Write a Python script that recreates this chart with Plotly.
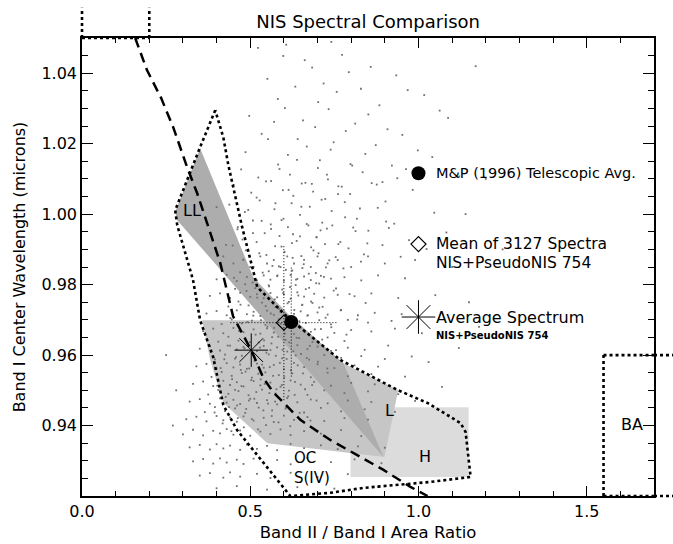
import plotly.graph_objects as go

# ---- axes ----
X_RANGE = [0.0, 1.70]
Y_RANGE = [0.92, 1.05]
x_ticks = [0.0, 0.5, 1.0, 1.5]
x_tick_text = ["0.0", "0.5", "1.0", "1.5"]
y_ticks = [0.94, 0.96, 0.98, 1.00, 1.02, 1.04]
y_tick_text = ["0.94", "0.96", "0.98", "1.00", "1.02", "1.04"]
x_minor = [0.1, 0.2, 0.3, 0.4, 0.6, 0.7, 0.8, 0.9, 1.1, 1.2, 1.3, 1.4, 1.6]
y_minor = [0.925, 0.93, 0.935, 0.945, 0.95, 0.955, 0.965, 0.97, 0.975,
           0.985, 0.99, 0.995, 1.005, 1.01, 1.015, 1.025, 1.03, 1.035, 1.045]

# ---- ordinary chondrite fields (shaded) ----
h_x = [0.798, 1.149, 1.149, 0.798]
h_y = [0.9452, 0.9452, 0.9254, 0.9254]
l_x = [0.357, 0.619, 0.777, 0.940, 0.899, 0.551, 0.420, 0.381]
l_y = [0.9699, 0.9699, 0.9577, 0.9501, 0.9311, 0.9350, 0.9464, 0.9586]
ll_x = [0.351, 0.277, 0.283, 0.896, 0.777, 0.610, 0.509]
ll_y = [1.0187, 1.0006, 0.9983, 0.9311, 0.9577, 0.9719, 0.9821]

# ---- S(IV) / OC boundary (dotted) ----
oc_x = [0.396, 0.351, 0.277, 0.283, 0.330, 0.351, 0.390, 0.420, 0.461, 0.619,
        0.738, 0.836, 1.036, 1.155, 1.140, 1.125, 1.027, 0.9375, 0.768, 0.610,
        0.521, 0.476, 0.435, 0.420, 0.396]
oc_y = [1.0295, 1.0190, 1.0011, 0.9969, 0.9813, 0.9699, 0.9594, 0.9458, 0.9387, 0.9200,
        0.9209, 0.9223, 0.9240, 0.9254, 0.9382, 0.9407, 0.9464, 0.9501, 0.9586, 0.9708,
        0.9793, 0.9963, 1.0139, 1.0218, 1.0295]

# ---- olivine-orthopyroxene mixing line (dashed) ----
mix_x = [0.158, 0.193, 0.235, 0.271, 0.3125, 0.342, 0.372, 0.411, 0.449, 0.503, 0.539,
         0.568, 0.649, 0.738, 0.818, 0.896, 0.976, 1.027]
mix_y = [1.0500, 1.0409, 1.0330, 1.0247, 1.0133, 1.0060, 0.9974, 0.9861, 0.9710, 0.9614, 0.9535,
         0.9495, 0.9416, 0.9359, 0.9316, 0.9274, 0.9226, 0.9200]

# ---- NIS spectra band parameters ----
cloud_upper = [
    (0.523, 1.0472), (0.607, 1.0481), (0.662, 1.0437), (0.741, 1.0489), (0.773, 1.0452), (0.858, 1.0418), (0.598, 1.0449),
    (0.551, 1.0384), (0.684, 1.0416), (0.718, 1.0371), (0.793, 1.0403), (0.829, 1.0356), (0.934, 1.0394), (1.017, 1.0338),
    (0.582, 1.0327), (0.634, 1.0362), (0.702, 1.0318), (0.757, 1.0347), (0.884, 1.0309), (0.968, 1.0352), (1.063, 1.0294),
    (0.497, 1.0279), (0.603, 1.0301), (0.657, 1.0266), (0.733, 1.0298), (0.812, 1.0257), (0.851, 1.0283), (0.908, 1.0241), (1.088, 1.0273),
    (0.534, 1.0228), (0.571, 1.0262), (0.641, 1.0213), (0.693, 1.0247), (0.748, 1.0204), (0.784, 1.0236), (0.873, 1.0196), (0.952, 1.0225), (0.998, 1.0181),
    (0.486, 1.0176), (0.553, 1.0213), (0.612, 1.0168), (0.668, 1.0192), (0.707, 1.0153), (0.739, 1.0183), (0.798, 1.0142), (0.842, 1.0171), (0.921, 1.0138), (1.041, 1.0162),
    (0.473, 1.0127), (0.524, 1.0104), (0.583, 1.0141), (0.618, 1.0112), (0.653, 1.0087), (0.701, 1.0131), (0.731, 1.0099), (0.772, 1.0078), (0.834, 1.0119), (0.893, 1.0091), (0.963, 1.0128), (1.121, 1.0107),
    (0.451, 1.0083), (0.503, 1.0061), (0.562, 1.0094), (0.597, 1.0068), (0.628, 1.0052), (0.664, 1.0089), (0.687, 1.0064), (0.723, 1.0043), (0.762, 1.0079), (0.797, 1.0057), (0.861, 1.0088), (0.902, 1.0036), (0.983, 1.0069),
    (0.438, 1.0027), (0.484, 1.0006), (0.528, 1.0039), (0.572, 1.0014), (0.593, 0.9983), (0.623, 1.0031), (0.648, 0.9998), (0.677, 1.0021), (0.714, 0.9976), (0.742, 1.0009), (0.781, 1.0034), (0.817, 0.9987), (0.879, 1.0018), (0.928, 0.9973), (1.047, 1.0004),
    (0.462, 0.9957), (0.508, 0.9982), (0.543, 0.9946), (0.561, 0.9971), (0.587, 0.9938), (0.612, 0.9963), (0.638, 0.9924), (0.673, 0.9968), (0.697, 0.9935), (0.728, 0.9959), (0.768, 0.9921), (0.813, 0.9952), (0.848, 0.9917), (0.912, 0.9961), (0.972, 0.9926), (1.083, 0.9948),
    (0.428, 0.9913), (0.487, 0.9897), (0.519, 0.9921), (0.548, 0.9884), (0.574, 0.9909), (0.602, 0.9893), (0.624, 0.9918), (0.652, 0.9881), (0.681, 0.9906), (0.703, 0.9889), (0.722, 0.9915), (0.754, 0.9878), (0.792, 0.9903), (0.838, 0.9886), (0.893, 0.9912), (0.947, 0.9879), (1.024, 0.9901),
]
cloud_core = [
    (0.42, 0.988), (0.45, 0.986), (0.48, 0.987), (0.51, 0.985), (0.53, 0.988), (0.55, 0.986), (0.57, 0.987), (0.59, 0.985), (0.61, 0.988), (0.63, 0.986), (0.66, 0.987), (0.68, 0.985), (0.70, 0.988), (0.73, 0.986), (0.76, 0.987), (0.80, 0.985), (0.85, 0.988), (0.90, 0.986), (0.99, 0.987),
    (0.47, 0.9835), (0.50, 0.9850), (0.555, 0.9838), (0.585, 0.9852), (0.625, 0.9840), (0.655, 0.9847), (0.695, 0.9833), (0.725, 0.9849),
    (0.40, 0.9815), (0.43, 0.9828), (0.46, 0.9810), (0.49, 0.9822), (0.52, 0.9812), (0.54, 0.9826), (0.56, 0.9814), (0.58, 0.9824), (0.60, 0.9811), (0.62, 0.9827), (0.64, 0.9816), (0.66, 0.9823), (0.68, 0.9813), (0.71, 0.9825), (0.74, 0.9817), (0.78, 0.9821), (0.83, 0.9812), (0.88, 0.9826), (0.96, 0.9818),
    (0.455, 0.9788), (0.485, 0.9801), (0.515, 0.9790), (0.555, 0.9798), (0.595, 0.9786), (0.635, 0.9799), (0.675, 0.9791), (0.705, 0.9803), (0.755, 0.9789),
    (0.38, 0.9768), (0.41, 0.9775), (0.44, 0.9762), (0.47, 0.9777), (0.50, 0.9765), (0.52, 0.9773), (0.54, 0.9761), (0.56, 0.9776), (0.58, 0.9764), (0.60, 0.9772), (0.62, 0.9760), (0.64, 0.9778), (0.66, 0.9766), (0.69, 0.9774), (0.72, 0.9763), (0.76, 0.9771), (0.81, 0.9767), (0.86, 0.9775), (0.94, 0.9762), (1.05, 0.9770),
    (0.435, 0.9738), (0.465, 0.9752), (0.495, 0.9741), (0.535, 0.9749), (0.575, 0.9736), (0.615, 0.9751), (0.655, 0.9743), (0.685, 0.9748), (0.715, 0.9737),
    (0.37, 0.9718), (0.40, 0.9725), (0.43, 0.9713), (0.46, 0.9727), (0.49, 0.9716), (0.51, 0.9723), (0.53, 0.9711), (0.55, 0.9726), (0.57, 0.9714), (0.59, 0.9722), (0.63, 0.9717), (0.65, 0.9724), (0.67, 0.9712), (0.70, 0.9721), (0.73, 0.9715), (0.77, 0.9728), (0.82, 0.9713), (0.87, 0.9720), (0.95, 0.9716),
    (0.415, 0.9688), (0.445, 0.9701), (0.475, 0.9690), (0.505, 0.9698), (0.545, 0.9686), (0.585, 0.9702), (0.665, 0.9691), (0.705, 0.9699), (0.74, 0.9687), (0.79, 0.9700), (0.85, 0.9692), (0.92, 0.9697),
    (0.36, 0.9668), (0.39, 0.9675), (0.42, 0.9662), (0.45, 0.9677), (0.48, 0.9665), (0.51, 0.9673), (0.53, 0.9661), (0.55, 0.9676), (0.57, 0.9664), (0.60, 0.9672), (0.63, 0.9660), (0.65, 0.9678), (0.68, 0.9666), (0.71, 0.9674), (0.75, 0.9663), (0.80, 0.9671), (0.86, 0.9667), (0.93, 0.9675), (1.01, 0.9662),
    (0.405, 0.9638), (0.435, 0.9652), (0.465, 0.9641), (0.485, 0.9649), (0.525, 0.9636), (0.565, 0.9651), (0.605, 0.9643), (0.645, 0.9648), (0.685, 0.9637), (0.73, 0.9650), (0.78, 0.9640),
    (0.35, 0.9618), (0.38, 0.9625), (0.41, 0.9613), (0.44, 0.9627), (0.46, 0.9616), (0.48, 0.9623), (0.52, 0.9611), (0.54, 0.9626), (0.56, 0.9614), (0.58, 0.9622), (0.61, 0.9610), (0.64, 0.9628), (0.67, 0.9617), (0.70, 0.9624), (0.74, 0.9612), (0.79, 0.9621), (0.84, 0.9615), (0.91, 0.9627),
    (0.395, 0.9588), (0.425, 0.9601), (0.455, 0.9590), (0.475, 0.9598), (0.515, 0.9586), (0.555, 0.9602), (0.595, 0.9591), (0.635, 0.9599), (0.675, 0.9587), (0.72, 0.9600), (0.77, 0.9592), (0.83, 0.9597), (0.90, 0.9589), (0.98, 0.9596),
    (0.34, 0.9568), (0.37, 0.9575), (0.40, 0.9562), (0.43, 0.9577), (0.45, 0.9565), (0.47, 0.9573), (0.49, 0.9561), (0.52, 0.9576), (0.54, 0.9564), (0.57, 0.9572), (0.60, 0.9560), (0.63, 0.9578), (0.66, 0.9566), (0.70, 0.9574), (0.75, 0.9563), (0.81, 0.9571), (0.88, 0.9567),
    (0.385, 0.9538), (0.415, 0.9552), (0.445, 0.9541), (0.475, 0.9549), (0.505, 0.9536), (0.545, 0.9551), (0.585, 0.9543), (0.625, 0.9548), (0.68, 0.9537), (0.73, 0.9550), (0.79, 0.9540), (0.86, 0.9546), (0.96, 0.9539),
    (0.33, 0.9518), (0.36, 0.9525), (0.39, 0.9512), (0.42, 0.9527), (0.44, 0.9515), (0.46, 0.9523), (0.48, 0.9511), (0.51, 0.9526), (0.53, 0.9514), (0.56, 0.9522), (0.59, 0.9510), (0.62, 0.9528), (0.65, 0.9516), (0.69, 0.9524), (0.74, 0.9513), (0.80, 0.9521), (0.87, 0.9517),
    (0.375, 0.9488), (0.405, 0.9501), (0.435, 0.9490), (0.465, 0.9498), (0.495, 0.9486), (0.535, 0.9502), (0.575, 0.9491), (0.615, 0.9499), (0.67, 0.9487), (0.72, 0.9500), (0.78, 0.9492), (0.85, 0.9497), (0.94, 0.9489),
    (0.32, 0.9468), (0.35, 0.9475), (0.38, 0.9462), (0.41, 0.9477), (0.43, 0.9465), (0.45, 0.9473), (0.47, 0.9461), (0.50, 0.9476), (0.52, 0.9464), (0.55, 0.9472), (0.58, 0.9460), (0.61, 0.9478), (0.64, 0.9466), (0.68, 0.9474), (0.73, 0.9463), (0.79, 0.9471), (0.86, 0.9467),
    (0.365, 0.9438), (0.395, 0.9452), (0.425, 0.9441), (0.455, 0.9449), (0.485, 0.9436), (0.525, 0.9451), (0.565, 0.9443), (0.605, 0.9448), (0.66, 0.9437), (0.71, 0.9450), (0.77, 0.9440), (0.84, 0.9446), (0.93, 0.9439),
]
cloud_dense = [
    (0.412, 0.9563), (0.427, 0.9481), (0.433, 0.9627), (0.441, 0.9705), (0.446, 0.9532), (0.452, 0.9819), (0.458, 0.9594), (0.461, 0.9457), (0.467, 0.9668), (0.471, 0.9743),
    (0.474, 0.9512), (0.479, 0.9871), (0.483, 0.9619), (0.486, 0.9553), (0.489, 0.9782), (0.492, 0.9694), (0.496, 0.9471), (0.499, 0.9637), (0.503, 0.9529), (0.507, 0.9806),
    (0.509, 0.9712), (0.513, 0.9584), (0.516, 0.9658), (0.518, 0.9495), (0.521, 0.9763), (0.524, 0.9547), (0.527, 0.9889), (0.529, 0.9621), (0.532, 0.9699), (0.535, 0.9573),
    (0.537, 0.9834), (0.541, 0.9642), (0.543, 0.9518), (0.546, 0.9739), (0.548, 0.9607), (0.551, 0.9681), (0.553, 0.9462), (0.556, 0.9795), (0.558, 0.9566), (0.561, 0.9718),
    (0.563, 0.9633), (0.566, 0.9853), (0.568, 0.9541), (0.571, 0.9677), (0.573, 0.9758), (0.576, 0.9598), (0.578, 0.9503), (0.581, 0.9826), (0.583, 0.9652), (0.586, 0.9731),
    (0.588, 0.9578), (0.591, 0.9689), (0.593, 0.9908), (0.596, 0.9615), (0.598, 0.9776), (0.601, 0.9537), (0.603, 0.9661), (0.606, 0.9842), (0.608, 0.9589), (0.611, 0.9747),
    (0.613, 0.9483), (0.616, 0.9636), (0.618, 0.9793), (0.621, 0.9557), (0.623, 0.9684), (0.626, 0.9876), (0.628, 0.9611), (0.631, 0.9728), (0.633, 0.9524), (0.636, 0.9814),
    (0.638, 0.9649), (0.641, 0.9571), (0.643, 0.9769), (0.646, 0.9696), (0.648, 0.9937), (0.651, 0.9603), (0.654, 0.9742), (0.657, 0.9548), (0.659, 0.9858), (0.662, 0.9665),
    (0.665, 0.9787), (0.668, 0.9592), (0.671, 0.9713), (0.674, 0.9831), (0.677, 0.9626), (0.681, 0.9752), (0.684, 0.9515), (0.688, 0.9897), (0.692, 0.9673), (0.696, 0.9804),
    (0.701, 0.9581), (0.705, 0.9735), (0.709, 0.9954), (0.714, 0.9644), (0.719, 0.9822), (0.724, 0.9706), (0.729, 0.9562), (0.735, 0.9869), (0.741, 0.9679), (0.748, 0.9783),
    (0.755, 0.9614), (0.762, 0.9915), (0.769, 0.9727), (0.777, 0.9846), (0.786, 0.9658), (0.795, 0.9773), (0.806, 0.9962), (0.818, 0.9701), (0.829, 0.9865), (0.843, 0.9748),
    (0.394, 0.9437), (0.402, 0.9513), (0.418, 0.9406), (0.423, 0.9588), (0.437, 0.9452), (0.444, 0.9384), (0.455, 0.9501), (0.463, 0.9421), (0.472, 0.9558), (0.481, 0.9395),
    (0.488, 0.9447), (0.497, 0.9562), (0.505, 0.9418), (0.512, 0.9476), (0.523, 0.9389), (0.531, 0.9531), (0.539, 0.9443), (0.547, 0.9401), (0.557, 0.9492), (0.564, 0.9427),
    (0.574, 0.9468), (0.584, 0.9409), (0.594, 0.9515), (0.607, 0.9452), (0.619, 0.9398), (0.632, 0.9487), (0.647, 0.9436), (0.663, 0.9503), (0.679, 0.9414), (0.697, 0.9471),
    (0.448, 0.9911), (0.463, 0.9963), (0.477, 0.9928), (0.494, 1.0012), (0.508, 0.9946), (0.519, 1.0047), (0.534, 0.9981), (0.547, 1.0093), (0.562, 0.9958), (0.575, 1.0031),
    (0.587, 1.0128), (0.599, 0.9987), (0.614, 1.0069), (0.627, 0.9943), (0.639, 1.0154), (0.652, 1.0021), (0.668, 0.9972), (0.683, 1.0086), (0.697, 0.9934), (0.712, 1.0041),
    (0.728, 1.0112), (0.744, 0.9968), (0.761, 1.0057), (0.782, 0.9991), (0.803, 1.0138), (0.826, 1.0016), (0.851, 0.9953), (0.876, 1.0084), (0.904, 0.9979), (0.937, 1.0102),
]
cloud_lower = [
    (0.31, 0.9418), (0.34, 0.9425), (0.37, 0.9412), (0.40, 0.9427), (0.42, 0.9415), (0.44, 0.9423), (0.46, 0.9411), (0.48, 0.9426), (0.51, 0.9414), (0.54, 0.9422), (0.57, 0.9410), (0.60, 0.9428), (0.63, 0.9416), (0.67, 0.9424), (0.72, 0.9413), (0.78, 0.9421), (0.85, 0.9417),
    (0.30, 0.9375), (0.33, 0.9388), (0.36, 0.9372), (0.39, 0.9385), (0.41, 0.9378), (0.43, 0.9390), (0.45, 0.9374), (0.47, 0.9386), (0.50, 0.9371), (0.53, 0.9383), (0.56, 0.9376), (0.59, 0.9389), (0.62, 0.9373), (0.66, 0.9384), (0.71, 0.9377), (0.77, 0.9387), (0.83, 0.9370),
    (0.32, 0.9338), (0.35, 0.9345), (0.38, 0.9332), (0.40, 0.9347), (0.42, 0.9335), (0.44, 0.9343), (0.47, 0.9331), (0.49, 0.9346), (0.52, 0.9334), (0.55, 0.9342), (0.58, 0.9330), (0.62, 0.9348), (0.66, 0.9336), (0.71, 0.9344), (0.76, 0.9333), (0.82, 0.9341), (0.90, 0.9337),
    (0.33, 0.9298), (0.36, 0.9305), (0.39, 0.9292), (0.41, 0.9307), (0.43, 0.9295), (0.46, 0.9303), (0.48, 0.9291), (0.51, 0.9306), (0.54, 0.9294), (0.58, 0.9302), (0.62, 0.9290), (0.67, 0.9308), (0.74, 0.9296), (0.81, 0.9304), (0.89, 0.9293),
    (0.35, 0.9258), (0.38, 0.9265), (0.42, 0.9252), (0.44, 0.9267), (0.47, 0.9255), (0.52, 0.9263), (0.56, 0.9251), (0.62, 0.9266), (0.70, 0.9254), (0.79, 0.9262),
    (0.40, 0.9222), (0.46, 0.9228), (0.55, 0.9218), (0.64, 0.9225), (0.75, 0.9221), (0.88, 0.9226),
]
cloud_outer = [
    (1.10, 0.985), (1.15, 0.975), (1.03, 0.958), (1.12, 0.962), (0.99, 0.947), (1.07, 0.951),
    (1.18, 0.968), (1.25, 0.990), (0.25, 0.960), (0.28, 0.950), (0.27, 0.940), (1.14, 1.000),
    (1.20, 1.010), (1.17, 1.042), (0.40, 1.002), (1.09, 0.943),
]

# ---- summary points ----
mp_avg = (0.622, 0.9694)          # M&P (1996) telescopic average
mp_err_y = 0.0155
nis_mean = (0.600, 0.9692)        # mean of 3127 spectra
nis_err_x = 0.159
nis_err_y = 0.022
nis_avg = (0.503, 0.9614)         # average spectrum

FONT = "DejaVu Sans"
fig = go.Figure()

def polygon(xs, ys, color):
    fig.add_trace(go.Scatter(x=xs + [xs[0]], y=ys + [ys[0]], mode="lines", fill="toself",
                             fillcolor=color, line=dict(width=0), hoverinfo="skip"))

polygon(h_x, h_y, "#dcdcdc")
polygon(l_x, l_y, "#c6c6c6")
polygon(ll_x, ll_y, "#adadad")

cloud = cloud_upper + cloud_core + cloud_dense + cloud_lower + cloud_outer
fig.add_trace(go.Scatter(x=[p[0] for p in cloud], y=[p[1] for p in cloud], mode="markers",
                         marker=dict(symbol="square", size=1.8, color="#707070", line=dict(width=0)),
                         hoverinfo="skip"))

fig.add_trace(go.Scatter(x=oc_x, y=oc_y, mode="lines",
                         line=dict(color="black", width=2.6, dash="dot")))
fig.add_trace(go.Scatter(x=mix_x, y=mix_y, mode="lines",
                         line=dict(color="black", width=2.5, dash="10px,6px")))

# error crosshairs
err_line = dict(color="black", width=1, dash="1px,2px")
fig.add_trace(go.Scatter(x=[nis_mean[0] - nis_err_x, nis_mean[0] + nis_err_x],
                         y=[nis_mean[1], nis_mean[1]], mode="lines", line=err_line))
fig.add_trace(go.Scatter(x=[nis_mean[0], nis_mean[0]],
                         y=[nis_mean[1] - nis_err_y, nis_mean[1] + nis_err_y], mode="lines", line=err_line))
fig.add_trace(go.Scatter(x=[mp_avg[0], mp_avg[0]],
                         y=[mp_avg[1] - mp_err_y, mp_avg[1] + mp_err_y], mode="lines", line=err_line))

# key positions (data space)
KEY_X = 1.0
KEY_TEXT_X = 1.05
key_y = [1.0116, 0.9915, 0.9708]

star = dict(symbol="asterisk-open", size=28, color="black", line=dict(width=1, color="black"))
diamond = dict(symbol="diamond-open", size=11.5, color="black", line=dict(width=1.2, color="black"))
dot = dict(symbol="circle", size=14, color="black")

fig.add_trace(go.Scatter(x=[nis_mean[0], KEY_X], y=[nis_mean[1], key_y[1]], mode="markers", marker=diamond))
fig.add_trace(go.Scatter(x=[mp_avg[0], KEY_X], y=[mp_avg[1], key_y[0]], mode="markers", marker=dot))
fig.add_trace(go.Scatter(x=[nis_avg[0], KEY_X], y=[nis_avg[1], key_y[2]], mode="markers", marker=star,
                         cliponaxis=False))

def label(x, y, text, size, xanchor="center", weight="normal"):
    fig.add_annotation(x=x, y=y, xref="x", yref="y", text=text, showarrow=False,
                       xanchor=xanchor, yanchor="middle", borderpad=0,
                       font=dict(family=FONT, size=size, color="black", weight=weight))

label(KEY_TEXT_X, key_y[0], "M&P (1996) Telescopic Avg.", 14.5, "left")
label(KEY_TEXT_X, key_y[1], "Mean of 3127 Spectra", 15.5, "left")
label(KEY_TEXT_X, 0.9862, "NIS+PseudoNIS 754", 15.5, "left")
label(KEY_TEXT_X, key_y[2], "Average Spectrum", 16, "left")
label(KEY_TEXT_X, 0.9657, "NIS+PseudoNIS 754", 10, "left", "bold")

label(0.327, 1.0011, "LL", 16)
label(0.914, 0.9444, "L", 16)
label(1.018, 0.9313, "H", 16)
label(0.628, 0.9307, "OC", 15, "left")
label(0.628, 0.9252, "S(IV)", 15, "left")
label(1.634, 0.9404, "BA", 16)
label(0.131, 1.0531, "OL", 14)

# OL and BA boundaries (dotted, extending past the frame)
dotted = dict(color="black", width=2.6, dash="dot")
shapes = [
    dict(type="line", xref="x domain", yref="y domain", x0=0, x1=0, y0=1, y1=1.066, line=dotted),
    dict(type="line", xref="x", yref="y domain", x0=0.2, x1=0.2, y0=1, y1=1.066, line=dotted),
    dict(type="line", xref="x", yref="y domain", x0=0.0, x1=0.2, y0=1, y1=1, line=dotted),
    dict(type="line", xref="x", yref="y", x0=1.55, x1=1.55, y0=0.92, y1=0.96, line=dotted),
    dict(type="line", xref="x", yref="y", x0=1.55, x1=1.70, y0=0.96, y1=0.96, line=dotted),
    dict(type="line", xref="x domain", yref="y", x0=1.0, x1=1.034, y0=0.96, y1=0.96, line=dotted),
    dict(type="line", xref="x", yref="y domain", x0=1.55, x1=1.70, y0=0, y1=0, line=dotted),
    dict(type="line", xref="x domain", yref="y domain", x0=1.0, x1=1.034, y0=0, y1=0, line=dotted),
]
for s in shapes:
    s["layer"] = "above"
    fig.add_shape(**s)

axis_common = dict(showline=True, linecolor="black", linewidth=1.5, mirror="ticks",
                   ticks="inside", tickcolor="black", tickwidth=1.2, showgrid=False, zeroline=False,
                   tickfont=dict(family=FONT, size=16, color="black"))

fig.update_xaxes(range=X_RANGE, tickvals=x_ticks, ticktext=x_tick_text, ticklen=10,
                 minor=dict(tickvals=x_minor, ticklen=5, ticks="inside", tickcolor="black", tickwidth=1.2),
                 title=dict(text="Band II / Band I Area Ratio", standoff=6,
                            font=dict(family=FONT, size=16.5, color="black")),
                 **axis_common)
fig.update_yaxes(range=Y_RANGE, tickvals=y_ticks, ticktext=y_tick_text, ticklen=11,
                 minor=dict(tickvals=y_minor, ticklen=6, ticks="inside", tickcolor="black", tickwidth=1.2),
                 title=dict(text="Band I Center Wavelength (microns)", standoff=12,
                            font=dict(family=FONT, size=16, color="black")),
                 **axis_common)

fig.update_layout(
    width=673, height=544,
    margin=dict(l=82, r=19, t=38, b=48, autoexpand=False),
    paper_bgcolor="white", plot_bgcolor="white",
    showlegend=False,
    title=dict(text="NIS Spectral Comparison", x=0.547, xanchor="center",
               y=1 - 22 / 544, yanchor="middle", yref="container",
               font=dict(family=FONT, size=18, color="black")),
)

fig.write_html("out.html")
